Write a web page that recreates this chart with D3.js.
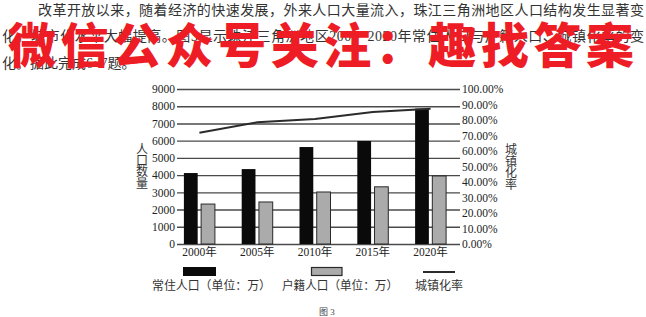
<!DOCTYPE html>
<html>
<head>
<meta charset="utf-8">
<script src="https://cdn.jsdelivr.net/npm/d3@7/dist/d3.min.js"></script>
<style>
  html, body { margin: 0; padding: 0; background: #fff; }
  svg { display: block; }
  text { font-family: "Liberation Serif", "Noto Sans CJK SC", serif; fill: #222; }
</style>
</head>
<body>
<svg id="chart" width="646" height="317"></svg>
<script>
// Pearl River Delta population and urbanisation, 2000–2020
const years = ["2000年", "2005年", "2010年", "2015年", "2020年"];
const residentPop = [4120, 4350, 5630, 5980, 7860];   // 常住人口（万）
const hukouPop = [2320, 2440, 3020, 3320, 3950];      // 户籍人口（万）
const urbanRate = [0.718, 0.785, 0.806, 0.852, 0.873]; // 城镇化率
const leftTicks = [0, 1000, 2000, 3000, 4000, 5000, 6000, 7000, 8000, 9000];
const rightTicks = [0, 0.1, 0.2, 0.3, 0.4, 0.5, 0.6, 0.7, 0.8, 0.9, 1.0];
const seriesNames = ["常住人口（单位：万）", "户籍人口（单位：万）", "城镇化率"];

const paragraph = [
  "改革开放以来，随着经济的快速发展，外来人口大量流入，珠江三角洲地区人口结构发生显著变",
  "化，城市化水平大幅提高。图3显示珠江三角洲地区2000~2020年常住人口与户籍人口、城镇化率的变",
  "化。据此完成6~7题。"
];
const banner = "微信公众号关注：趣找答案";

const svg = d3.select("#chart");

// question text above the figure
const para = svg.append("g").attr("font-size", 14);
para.append("text").attr("x", 38).attr("y", 10).attr("dominant-baseline", "central")
  .attr("textLength", 606).attr("lengthAdjust", "spacing").style("fill", "#333").text(paragraph[0]);
para.append("text").attr("x", 2).attr("y", 36).attr("dominant-baseline", "central")
  .attr("textLength", 642).attr("lengthAdjust", "spacing").style("fill", "#333").text(paragraph[1]);
para.append("text").attr("x", 2).attr("y", 63).attr("dominant-baseline", "central")
  .style("fill", "#333").text(paragraph[2]);

// chart geometry
const plotLeft = 177, plotRight = 460, plotTop = 89, plotBottom = 244;

const x = d3.scaleBand().domain(years).range([170.5, 459.5]);
const xInner = d3.scaleBand().domain([0, 1]).range([-15.5, 15.5]).paddingInner(0.2);
const yL = d3.scaleLinear().domain([0, 9000]).range([plotBottom, plotTop]);
const yR = d3.scaleLinear().domain([0, 1]).range([plotBottom, plotTop]);

// left axis with gridlines
const gL = svg.append("g").attr("transform", `translate(${plotLeft},0)`)
  .call(d3.axisLeft(yL).tickValues(leftTicks).tickSize(-(plotRight - plotLeft)).tickPadding(2)
    .tickFormat(d3.format("d")));
gL.select(".domain").remove();
gL.selectAll(".tick line").attr("stroke", "#4a4a4a").attr("stroke-width", 1.4);
gL.selectAll(".tick text").attr("font-size", 11.5).attr("font-family", "Liberation Serif").style("fill", "#222");

// right axis (percent)
const gR = svg.append("g").attr("transform", `translate(${plotRight},0)`)
  .call(d3.axisRight(yR).tickValues(rightTicks).tickSize(0).tickPadding(2)
    .tickFormat(d => (d * 100).toFixed(2) + "%"));
gR.select(".domain").remove();
gR.selectAll(".tick text").attr("font-size", 11.5).attr("font-family", "Liberation Serif").style("fill", "#222");

// bottom category labels
const gB = svg.append("g").attr("transform", `translate(0,${plotBottom})`)
  .call(d3.axisBottom(x).tickSize(0).tickPadding(4));
gB.select(".domain").remove();
gB.selectAll(".tick text").attr("font-size", 11.5).style("fill", "#222");

// bars
const barData = years.map((yr, i) => ({ yr, vals: [residentPop[i], hukouPop[i]] }));
const groups = svg.append("g").selectAll("g").data(barData).join("g")
  .attr("transform", d => `translate(${x(d.yr) + x.bandwidth() / 2},0)`);
groups.selectAll("rect").data(d => d.vals.map((v, k) => ({ v, k }))).join("rect")
  .attr("x", d => xInner(d.k))
  .attr("width", xInner.bandwidth())
  .attr("y", d => yL(d.v))
  .attr("height", d => yL(0) - yL(d.v))
  .attr("fill", d => d.k === 0 ? "#0a0a0a" : "#ababab")
  .attr("stroke", d => d.k === 0 ? "none" : "#2a2a2a")
  .attr("stroke-width", 1);

// urbanisation line
const line = d3.line()
  .x((d, i) => x(years[i]) + x.bandwidth() / 2)
  .y(d => yR(d));
svg.append("path").datum(urbanRate).attr("d", line)
  .attr("fill", "none").attr("stroke", "#2b2b2b").attr("stroke-width", 2);

// vertical axis titles
const leftTitle = "人口数量".split("");
svg.append("g").selectAll("text").data(leftTitle).join("text")
  .attr("x", 142).attr("y", (d, i) => 150 + i * 11.2)
  .attr("text-anchor", "middle").attr("dominant-baseline", "central")
  .attr("font-size", 12).style("fill", "#333").text(d => d);
const rightTitle = "城镇化率".split("");
svg.append("g").selectAll("text").data(rightTitle).join("text")
  .attr("x", 511).attr("y", (d, i) => 150 + i * 11.7)
  .attr("text-anchor", "middle").attr("dominant-baseline", "central")
  .attr("font-size", 12).style("fill", "#333").text(d => d);

// legend
const lg = svg.append("g");
lg.append("rect").attr("x", 183).attr("y", 267).attr("width", 33).attr("height", 9).attr("fill", "#0a0a0a");
lg.append("rect").attr("x", 311.5).attr("y", 267.5).attr("width", 30.5).attr("height", 8)
  .attr("fill", "#ababab").attr("stroke", "#2a2a2a").attr("stroke-width", 1.2);
lg.append("line").attr("x1", 423).attr("x2", 455).attr("y1", 272).attr("y2", 272)
  .attr("stroke", "#2b2b2b").attr("stroke-width", 2);
const legendPos = [[152, 119], [282, 116], [415, 48]];
lg.selectAll("text.lbl").data(seriesNames).join("text").attr("class", "lbl")
  .attr("x", (d, i) => legendPos[i][0]).attr("y", 286)
  .attr("dominant-baseline", "central").attr("font-size", 12)
  .attr("textLength", (d, i) => legendPos[i][1]).attr("lengthAdjust", "spacingAndGlyphs")
  .style("fill", "#333").text(d => d);

// figure caption
svg.append("text").attr("x", 327).attr("y", 312).attr("text-anchor", "middle")
  .attr("dominant-baseline", "central").attr("font-size", 9).style("fill", "#444").text("图 3");

// red banner across the question text
svg.append("text").attr("x", 8).attr("y", 42).attr("dominant-baseline", "central")
  .attr("textLength", 626).attr("lengthAdjust", "spacing")
  .style("font-family", "'Noto Sans CJK SC', sans-serif").style("font-weight", 900)
  .attr("font-size", 48).style("fill", "#ee1d25").text(banner);
</script>
</body>
</html>
